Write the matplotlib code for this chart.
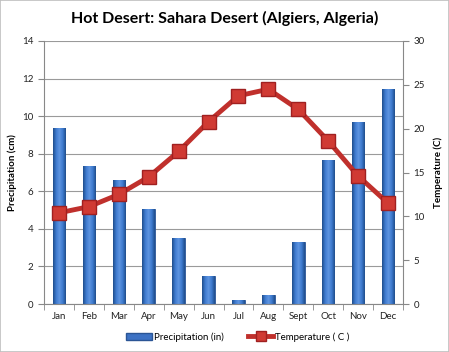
import numpy as np
import matplotlib.pyplot as plt
from matplotlib.patches import Rectangle
from matplotlib.colors import LinearSegmentedColormap

plt.rcParams['font.family'] = ['Lato', 'DejaVu Sans']

months = ['Jan', 'Feb', 'Mar', 'Apr', 'May', 'Jun', 'Jul', 'Aug', 'Sept', 'Oct', 'Nov', 'Dec']
precip = [9.38, 7.34, 6.6, 5.06, 3.53, 1.49, 0.2, 0.48, 3.28, 7.66, 9.67, 11.43]
temp = [10.4, 11.1, 12.5, 14.5, 17.4, 20.8, 23.75, 24.5, 22.2, 18.6, 14.6, 11.5]

fig = plt.figure(figsize=(4.49, 3.52), dpi=100)
fig.patches.append(Rectangle((0, 0), 1, 1, transform=fig.transFigure,
                             fill=False, edgecolor='#bfbfbf', linewidth=1.2))
ax = fig.add_axes([44 / 449, 1 - 304 / 352, 359 / 449, 263 / 352])
x = np.arange(len(months))

bars = ax.bar(x, precip, width=0.42, color='#3d72c4', edgecolor='#2b5595', linewidth=0.6, zorder=2)
# shaded bars: dark edges, lighter middle
cmap = LinearSegmentedColormap.from_list('bar', ['#1f4e8c', '#3f7bd0', '#5f95e0', '#3f7bd0', '#1f4e8c'])
grad = np.linspace(0, 1, 64).reshape(1, -1)
for b in bars:
    x0, w, h = b.get_x(), b.get_width(), b.get_height()
    im = ax.imshow(grad, cmap=cmap, aspect='auto', extent=(x0, x0 + w, 0, h), zorder=2.5)
    im.set_clip_path(b)

ax.set_xlim(-0.5, 11.5)
ax.set_ylim(0, 14)
ax.set_yticks(range(0, 15, 2))
ax.set_xticks(x)
ax.set_xticklabels(months)
ax.set_xticks(np.arange(-0.5, 12, 1), minor=True)
ax.tick_params(axis='x', which='major', length=0, labelsize=7, colors='#222222', pad=6)
ax.tick_params(axis='x', which='minor', length=4, color='#888888', direction='out')
ax.tick_params(axis='y', labelsize=7, colors='#222222', length=4, color='#888888')
ax.grid(axis='y', color='#9a9a9a', linewidth=0.8, zorder=0)
ax.set_axisbelow(True)
for s in ['top', 'right']:
    ax.spines[s].set_visible(False)
for s in ['left', 'bottom']:
    ax.spines[s].set_color('#888888')
ax.set_ylabel('Precipitation (cm)', fontsize=7, fontweight='bold', labelpad=4)

ax2 = ax.twinx()
ax2.plot(x, temp, color='#c0302c', linewidth=3.5, marker='s', markersize=10,
         markerfacecolor='#d03a33', markeredgecolor='#a02020', zorder=3)
ax2.set_ylim(0, 30)
ax2.set_yticks(range(0, 31, 5))
ax2.tick_params(axis='y', labelsize=7, colors='#222222', length=4, color='#888888')
for s in ['top', 'left', 'bottom']:
    ax2.spines[s].set_visible(False)
ax2.spines['right'].set_color('#888888')
ax2.set_ylabel('Temperature (C)', fontsize=7, fontweight='bold', labelpad=6)

h1 = plt.Rectangle((0, 0), 1, 1, facecolor='#3d72c4', edgecolor='#2b5595')
h2 = plt.Line2D([], [], color='#c0302c', linewidth=3.5, marker='s', markersize=7,
                markerfacecolor='#d03a33', markeredgecolor='#a02020')
fig.legend([h1, h2], ['Precipitation (in)', 'Temperature ( C )'], loc='center',
           bbox_to_anchor=(0.53, 1 - 337 / 352), ncol=2, frameon=False, fontsize=7,
           handlelength=2.6, handletextpad=0.2, columnspacing=2.5)

fig.text(0.5, 1 - 18 / 352, 'Hot Desert: Sahara Desert (Algiers, Algeria)', ha='center',
         va='center', fontsize=11.5, fontweight='bold')

plt.savefig('out.png', dpi=100)
